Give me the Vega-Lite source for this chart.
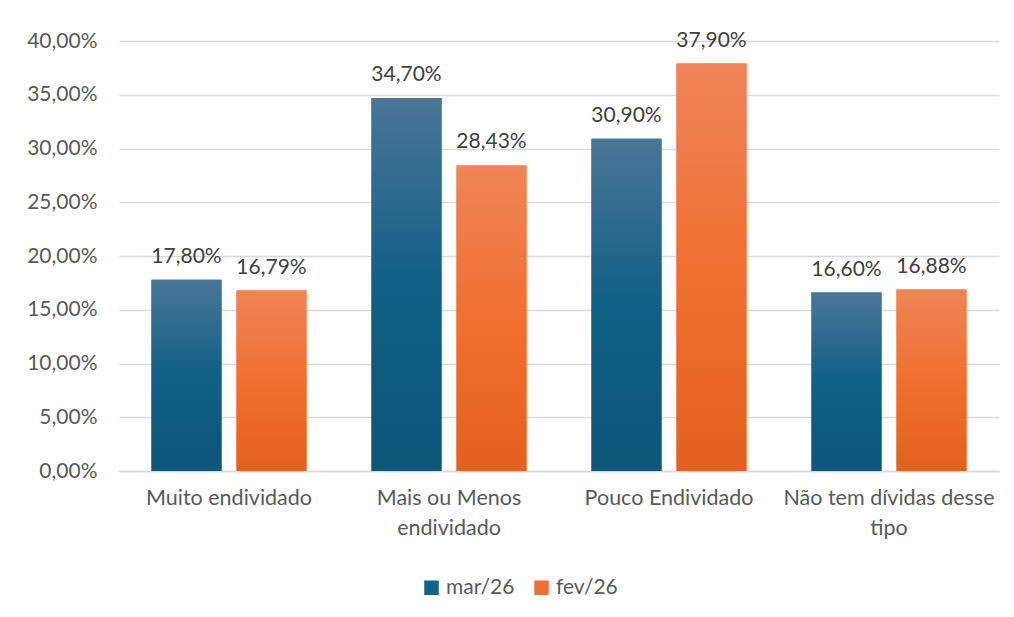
{
  "$schema": "https://vega.github.io/schema/vega-lite/v6.json",
  "autosize": "none",
  "width": 880,
  "height": 430,
  "padding": {"left": 119, "top": 41, "right": 15, "bottom": 146},
  "background": "white",
  "data": {
    "values": [
      {"categoria": "Muito endividado", "periodo": "mar/26", "valor": 0.1780},
      {"categoria": "Muito endividado", "periodo": "fev/26", "valor": 0.1679},
      {"categoria": "Mais ou Menos endividado", "periodo": "mar/26", "valor": 0.3470},
      {"categoria": "Mais ou Menos endividado", "periodo": "fev/26", "valor": 0.2843},
      {"categoria": "Pouco Endividado", "periodo": "mar/26", "valor": 0.3090},
      {"categoria": "Pouco Endividado", "periodo": "fev/26", "valor": 0.3790},
      {"categoria": "Não tem dívidas desse tipo", "periodo": "mar/26", "valor": 0.1660},
      {"categoria": "Não tem dívidas desse tipo", "periodo": "fev/26", "valor": 0.1688}
    ]
  },
  "config": {
    "view": {"stroke": null},
    "font": "Lato",
    "locale": {
      "number": {"decimal": ",", "thousands": ".", "grouping": [3], "currency": ["R$", ""]}
    }
  },
  "encoding": {
    "x": {
      "field": "categoria",
      "type": "nominal",
      "sort": ["Muito endividado", "Mais ou Menos endividado", "Pouco Endividado", "Não tem dívidas desse tipo"],
      "scale": {"paddingInner": 0, "paddingOuter": 0},
      "axis": {
        "title": null,
        "labelAngle": 0,
        "labelFontSize": 21.5,
        "labelColor": "#595959",
        "labelPadding": 16,
        "labelLimit": 400,
        "ticks": false,
        "domainColor": "#d9d9d9",
        "domainWidth": 1.5,
        "labelLineHeight": 30,
        "labelExpr": "datum.label == 'Mais ou Menos endividado' ? ['Mais ou Menos', 'endividado'] : datum.label == 'Não tem dívidas desse tipo' ? ['Não tem dívidas desse', 'tipo'] : datum.label"
      }
    },
    "xOffset": {
      "field": "periodo",
      "type": "nominal",
      "sort": ["mar/26", "fev/26"],
      "scale": {"paddingInner": 0.1765, "paddingOuter": 0.382}
    },
    "y": {
      "field": "valor",
      "type": "quantitative",
      "scale": {"domain": [0, 0.4]},
      "axis": {
        "title": null,
        "values": [0, 0.05, 0.1, 0.15, 0.2, 0.25, 0.3, 0.35, 0.4],
        "format": ".2%",
        "domain": false,
        "ticks": false,
        "labelFontSize": 21,
        "labelColor": "#595959",
        "labelPadding": 22,
        "gridColor": "#d9d9d9",
        "gridWidth": 1.5
      }
    }
  },
  "layer": [
    {
      "mark": {"type": "bar"},
      "encoding": {
        "color": {
          "field": "periodo",
          "type": "nominal",
          "sort": ["mar/26", "fev/26"],
          "scale": {"domain": ["mar/26", "fev/26"], "range": ["#12628a", "#ef7132"]},
          "legend": {
            "title": null,
            "orient": "none",
            "legendX": 302,
            "legendY": 536,
            "direction": "horizontal",
            "symbolType": "square",
            "symbolSize": 210,
            "symbolStrokeWidth": 0,
            "labelFontSize": 21,
            "labelColor": "#595959",
            "columnPadding": 16,
            "labelOffset": 4
          }
        }
      }
    },
    {
      "transform": [{"filter": "datum.periodo == 'mar/26'"}],
      "mark": {
        "type": "bar",
        "color": {
          "gradient": "linear", "x1": 0, "y1": 0, "x2": 0, "y2": 1,
          "stops": [
            {"offset": 0, "color": "#4a7696"},
            {"offset": 0.5, "color": "#0f5f86"},
            {"offset": 1, "color": "#0c5679"}
          ]
        }
      }
    },
    {
      "transform": [{"filter": "datum.periodo == 'fev/26'"}],
      "mark": {
        "type": "bar",
        "color": {
          "gradient": "linear", "x1": 0, "y1": 0, "x2": 0, "y2": 1,
          "stops": [
            {"offset": 0, "color": "#ee8558"},
            {"offset": 0.5, "color": "#f07030"},
            {"offset": 1, "color": "#e2611d"}
          ]
        }
      }
    },
    {
      "mark": {"type": "text", "baseline": "alphabetic", "dy": -17, "fontSize": 21, "color": "#404040"},
      "encoding": {
        "text": {"field": "valor", "type": "quantitative", "format": ".2%"}
      }
    }
  ]
}
